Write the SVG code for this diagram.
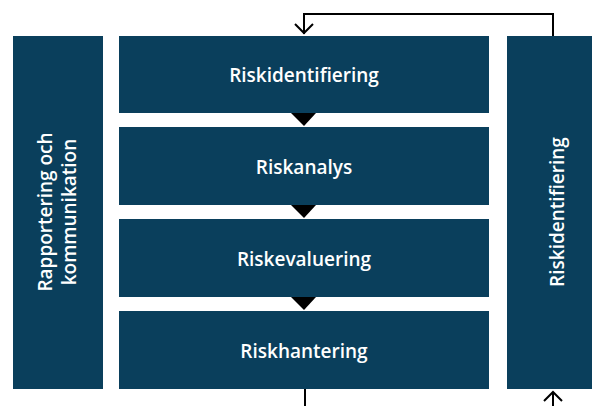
<svg xmlns="http://www.w3.org/2000/svg" width="592" height="406" viewBox="0 0 592 406">
<style>
.box{fill:#0a3f5c}
.t{fill:#fff;font-family:"Open Sans","Liberation Sans",Arial,sans-serif;font-size:19px;font-weight:600;text-anchor:middle;dominant-baseline:central}
.c{stroke:#000;stroke-width:2;fill:none}
.tri{fill:#000}
</style>
<rect width="592" height="406" fill="#fff"/>
<g id="left"><rect class="box" x="13" y="36" width="90" height="353"/>
<text class="t" transform="translate(57,212) rotate(-90)"><tspan x="0" y="-12">Rapportering och</tspan><tspan x="0" y="12">kommunikation</tspan></text></g>
<g id="n1"><rect class="box" x="119" y="36" width="370" height="77"/><text class="t" x="304" y="75">Riskidentifiering</text></g>
<g id="n2"><rect class="box" x="119" y="127" width="370" height="78"/><text class="t" x="304" y="167">Riskanalys</text></g>
<g id="n3"><rect class="box" x="119" y="219" width="370" height="78"/><text class="t" x="304" y="259">Riskevaluering</text></g>
<g id="n4"><rect class="box" x="119" y="311" width="370" height="78"/><text class="t" x="304" y="351">Riskhantering</text></g>
<g id="right"><rect class="box" x="507" y="36" width="85" height="353"/>
<text class="t" transform="translate(557,212) rotate(-90)" x="0" y="0">Riskidentifiering</text></g>
<g id="connectors">
<polygon class="tri" points="291,113 316,113 304,126"/>
<polygon class="tri" points="291,205 316,205 304,218"/>
<polygon class="tri" points="291,297 316,297 304,310"/>
<polyline class="c" points="553,36 553,14 304,14 304,34"/>
<polyline class="c" points="295,24 304,33 313,24"/>
<line class="c" x1="305" y1="389" x2="305" y2="406"/>
<line class="c" x1="553" y1="406" x2="553" y2="392"/>
<polyline class="c" points="544,401 553,392 562,401"/>
</g>
</svg>
